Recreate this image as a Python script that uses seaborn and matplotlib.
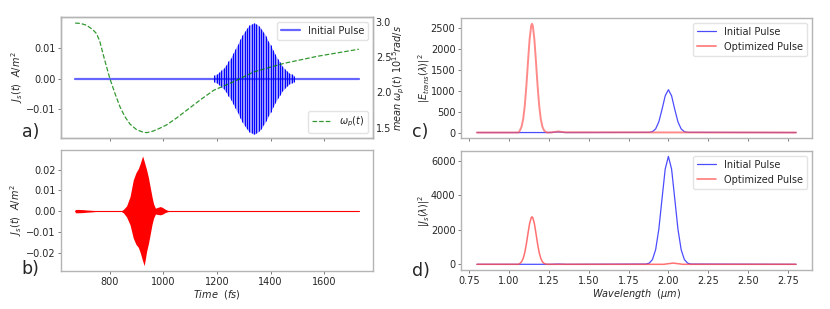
import numpy as np
import matplotlib
matplotlib.use('Agg')
import matplotlib.pyplot as plt
import seaborn as sns

# ---- data ----
# panel a: initial pulse (carrier peaks) and mean plasma frequency
blue_base_t = [670, 1730]
blue_base_j = [0.0, 0.0]
blue_peak_t = [1190, 1198.75, 1207.5, 1216.25, 1225, 1233.75, 1242.5, 1251.25, 1260,
               1268.75, 1277.5, 1286.25, 1295, 1303.75, 1312.5, 1321.25, 1330, 1338.75,
               1347.5, 1356.25, 1365, 1373.75, 1382.5, 1391.25, 1400, 1408.75, 1417.5,
               1426.25, 1435, 1443.75, 1452.5, 1461.25, 1470, 1478.75, 1487.5]
blue_peak_amp = [0.0011, 0.0015, 0.0020, 0.0027, 0.0035, 0.0045, 0.0056, 0.0069, 0.0083,
                 0.0098, 0.0113, 0.0129, 0.0143, 0.0156, 0.0167, 0.0175, 0.0180, 0.0183,
                 0.0179, 0.0173, 0.0164, 0.0153, 0.0139, 0.0124, 0.0109, 0.0094, 0.0079,
                 0.0065, 0.0053, 0.0042, 0.0032, 0.0025, 0.0018, 0.0014, 0.0010]

omega_t = [670, 690, 712, 735, 750, 762, 780, 800, 820, 838, 855, 875, 900, 925, 938,
           960, 985, 1012, 1050, 1088, 1140, 1188, 1262, 1338, 1450, 1575, 1730]
omega_val = [2.98, 2.975, 2.95, 2.89, 2.83, 2.72, 2.46, 2.19, 1.97, 1.79, 1.66, 1.55,
             1.47, 1.435, 1.43, 1.45, 1.49, 1.54, 1.64, 1.75, 1.90, 2.03, 2.15, 2.29,
             2.41, 2.51, 2.61]

# panel b: optimized pulse envelope
red_t = [670, 685, 700, 715, 730, 745, 760, 840, 850, 862, 875, 887, 897, 906, 913,
         922, 928, 937, 944, 950, 957, 963, 970, 978, 988, 996, 1005, 1015, 1030, 1730]
red_upper = [0.0008, 0.0008, 0.0007, 0.0005, 0.0004, 0.0002, 0.0, 0.0, 0.0008, 0.0025,
             0.0070, 0.0150, 0.0185, 0.0205, 0.0230, 0.0266, 0.0240, 0.0199, 0.0160,
             0.0118, 0.0070, 0.0035, 0.0014, 0.0018, 0.0022, 0.0018, 0.0010, 0.0004,
             0.0, 0.0]
red_lower = [-0.0008, -0.0008, -0.0007, -0.0005, -0.0004, -0.0002, 0.0, 0.0, -0.0008,
             -0.0028, -0.0066, -0.0130, -0.0160, -0.0175, -0.0200, -0.0240, -0.0263,
             -0.0194, -0.0155, -0.0114, -0.0065, -0.0034, -0.0014, -0.0016, -0.0018,
             -0.0015, -0.0008, -0.0003, 0.0, 0.0]

# panel c: transmitted field spectra
c_init_wl = [0.8, 1.26, 1.31, 1.36, 1.88, 1.90, 1.92, 1.94, 1.96, 1.98, 2.00, 2.02,
             2.04, 2.06, 2.08, 2.10, 2.12, 2.8]
c_init_val = [0, 0, 15, 0, 4, 21, 86, 254, 550, 874, 1020, 874, 550, 254, 86, 21, 4, 0]
c_opt_wl = [0.8, 1.06, 1.07, 1.08, 1.09, 1.10, 1.11, 1.12, 1.13, 1.14, 1.145, 1.15,
            1.16, 1.17, 1.18, 1.19, 1.20, 1.21, 1.22, 1.23, 1.24, 1.27, 1.31, 1.35, 2.8]
c_opt_val = [0, 0, 54, 142, 326, 646, 1118, 1687, 2220, 2546, 2590, 2546, 2220, 1687,
             1118, 646, 326, 142, 54, 18, 0, 5, 25, 5, 0]

# panel d: surface current spectra
d_init_wl = [0.8, 1.26, 1.31, 1.36, 1.86, 1.88, 1.90, 1.92, 1.94, 1.96, 1.98, 2.00,
             2.02, 2.04, 2.06, 2.08, 2.10, 2.12, 2.14, 2.8]
d_init_val = [0, 0, 15, 0, 14, 69, 275, 846, 2028, 3791, 5516, 6250, 5516, 3791, 2028,
              846, 275, 69, 14, 0]
d_opt_wl = [0.8, 1.06, 1.07, 1.08, 1.09, 1.10, 1.11, 1.12, 1.13, 1.14, 1.145, 1.15,
            1.16, 1.17, 1.18, 1.19, 1.20, 1.21, 1.22, 1.23, 1.24, 1.97, 2.03, 2.09, 2.8]
d_opt_val = [0, 0, 57, 151, 346, 686, 1187, 1791, 2357, 2704, 2750, 2704, 2357, 1791,
             1187, 686, 346, 151, 57, 19, 0, 0, 70, 0, 0]

# ---- style ----
sns.set_style('white')
plt.rcParams['font.family'] = ['DejaVu Sans']
plt.rcParams['mathtext.fontset'] = 'dejavusans'
SPINE = '#b4b4b4'
FS = 7

fig = plt.figure(figsize=(8.3, 3.09), dpi=100)
ax_a = fig.add_axes([0.0735, 0.5534, 0.3759, 0.3916])
ax_b = fig.add_axes([0.0735, 0.1230, 0.3759, 0.3916], sharex=ax_a)
ax_c = fig.add_axes([0.5554, 0.5534, 0.4229, 0.3880])
ax_d = fig.add_axes([0.5554, 0.1262, 0.4229, 0.3850], sharex=ax_c)


def style_axes(ax):
    for s in ax.spines.values():
        s.set_color(SPINE)
        s.set_linewidth(1.0)
    ax.tick_params(labelsize=FS, length=2, width=0.6, color='#666666',
                   bottom=True, left=True, pad=2)


# panel a
sns.lineplot(x=blue_base_t, y=blue_base_j, ax=ax_a, color='b', alpha=0.6, lw=1.6,
             label='Initial Pulse')
ax_a.fill_between(blue_peak_t, [-a for a in blue_peak_amp], blue_peak_amp,
                  color='b', alpha=0.4, lw=0)
ax_a.vlines(blue_peak_t, [-a for a in blue_peak_amp], blue_peak_amp, color='b', lw=0.7)
ax_a.set_ylim(-0.0195, 0.0202)
ax_a.set_yticks([-0.01, 0.0, 0.01])
ax_a.set_ylabel(r'$J_s(t)\ \ A/m^2$', fontsize=FS, labelpad=1)
ax_a.legend(loc='upper right', fontsize=FS, edgecolor='#dddddd')
style_axes(ax_a)
ax_a.tick_params(labelbottom=False)

ax_w = ax_a.twinx()
sns.lineplot(x=omega_t, y=omega_val, ax=ax_w, color='g', ls='--', lw=0.9, alpha=0.8,
             label=r'$\omega_p(t)$')
ax_w.set_ylim(1.354, 3.066)
ax_w.set_yticks([1.5, 2.0, 2.5, 3.0])
ax_w.set_ylabel(r'$mean\ \omega_p(t)\ 10^{15}rad/s$', fontsize=FS, labelpad=0)
ax_w.legend(loc='lower right', fontsize=FS, edgecolor='#dddddd')
style_axes(ax_w)
ax_w.tick_params(right=True, left=False, length=0)

# panel b
ax_b.fill_between(red_t, red_lower, red_upper, color='r', lw=0)
sns.lineplot(x=red_t, y=[0.0] * len(red_t), ax=ax_b, color='r', lw=0.8)
ax_b.set_xlim(617, 1783)
ax_b.set_xticks([800, 1000, 1200, 1400, 1600])
ax_b.set_ylim(-0.0289, 0.0295)
ax_b.set_yticks([-0.02, -0.01, 0.0, 0.01, 0.02])
ax_b.set_ylabel(r'$J_s(t)\ \ A/m^2$', fontsize=FS, labelpad=1)
ax_b.set_xlabel(r'$Time\ \ (fs)$', fontsize=FS, labelpad=1)
style_axes(ax_b)

# panel c
sns.lineplot(x=c_init_wl, y=c_init_val, ax=ax_c, color='b', alpha=0.7, lw=0.9,
             label='Initial Pulse')
sns.lineplot(x=c_opt_wl, y=c_opt_val, ax=ax_c, color=(1.0, 0.35, 0.35), alpha=0.7,
             lw=1.4, label='Optimized Pulse')
ax_c.set_ylim(-130, 2725)
ax_c.set_yticks([0, 500, 1000, 1500, 2000, 2500])
ax_c.set_ylabel(r'$|E_{trans}(\lambda)|^2$', fontsize=FS, labelpad=-1)
ax_c.legend(loc='upper right', fontsize=FS, edgecolor='#dddddd')
style_axes(ax_c)
ax_c.tick_params(labelbottom=False)

# panel d
sns.lineplot(x=d_init_wl, y=d_init_val, ax=ax_d, color='b', alpha=0.7, lw=0.9,
             label='Initial Pulse')
sns.lineplot(x=d_opt_wl, y=d_opt_val, ax=ax_d, color=(1.0, 0.3, 0.3), alpha=0.8,
             lw=1.1, label='Optimized Pulse')
ax_d.set_xlim(0.7, 2.9)
ax_d.set_xticks([0.75, 1.0, 1.25, 1.5, 1.75, 2.0, 2.25, 2.5, 2.75])
ax_d.set_ylim(-330, 6560)
ax_d.set_yticks([0, 2000, 4000, 6000])
ax_d.set_ylabel(r'$|J_s(\lambda)|^2$', fontsize=FS, labelpad=-1)
ax_d.set_xlabel(r'$Wavelength\ \ (\mu m)$', fontsize=FS, labelpad=1)
ax_d.legend(loc='upper right', fontsize=FS, edgecolor='#dddddd')
style_axes(ax_d)

# panel letters
for lab, x, y in [('a)', 0.026, 0.556), ('b)', 0.026, 0.112),
                  ('c)', 0.496, 0.558), ('d)', 0.496, 0.106)]:
    fig.text(x, y, lab, fontsize=12.5)

fig.savefig('out.png', dpi=100)
